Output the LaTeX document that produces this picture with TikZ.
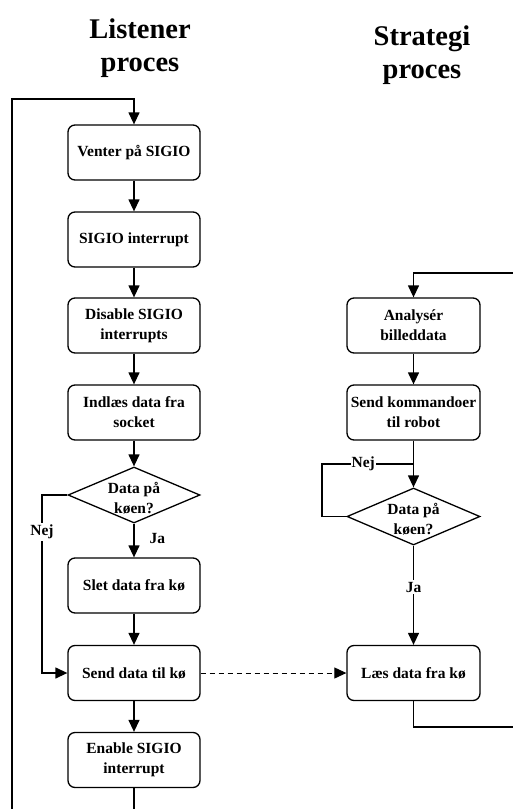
\documentclass[tikz,border=0pt]{standalone}
\usepackage{fontspec}
\setmainfont{Liberation Serif}
\usetikzlibrary{shapes.geometric,arrows.meta}
\begin{document}
\begin{tikzpicture}[x=1pt,y=-1pt,
  line width=1.3pt,
  box/.style={draw, rounded corners=7pt, minimum width=132pt, minimum height=55pt,
    inner sep=0pt, align=center, font=\fontsize{15.5}{20}\selectfont\bfseries},
  decision/.style={draw, diamond, minimum width=132pt, minimum height=56pt, inner sep=0pt},
  dtext/.style={align=center, inner sep=0pt, yshift=-3pt, font=\fontsize{15.5}{20}\selectfont\bfseries},
  title/.style={align=center, inner sep=0pt, font=\fontsize{28.5}{33}\selectfont\bfseries},
  lbl/.style={inner sep=1pt, font=\fontsize{15.5}{18}\selectfont\bfseries},
  arr/.style={-{Triangle[length=12pt,width=11pt]}},
  link/.style={line join=miter}]
\useasboundingbox (0,0) rectangle (512,809);

% column headings
\node[title] (tl) at (140,48.5) {Listener\\proces};
\node[title] (tr) at (422,55) {Strategi\\proces};

% listener process
\node[box] (wait) at (134,152.5) {Venter på SIGIO};
\node[box] (irq) at (134,239.5) {SIGIO interrupt};
\node[box] (dis) at (134,325.5) {Disable SIGIO\\interrupts};
\node[box] (read) at (134,412.5) {Indlæs data fra\\socket};
\node[decision, label={[dtext]center:Data på\\køen?}] (q1) at (134,495) {};
\node[box] (del) at (134,585.5) {Slet data fra kø};
\node[box] (send) at (134,673) {Send data til kø};
\node[box] (en) at (134,760) {Enable SIGIO\\interrupt};

% strategy process
\node[box, minimum width=133pt] (ana) at (413.5,325.5) {Analysér\\billeddata};
\node[box, minimum width=133pt] (cmd) at (413.5,412.5) {Send kommandoer\\til robot};
\node[decision, minimum width=133pt, minimum height=57pt, label={[dtext]center:Data på\\køen?}] (q2) at (413.5,516.5) {};
\node[box, minimum width=133pt] (get) at (413.5,673) {Læs data fra kø};

% listener flow
\draw[arr] (wait) -- (irq);
\draw[arr] (irq) -- (dis);
\draw[arr] (dis) -- (read);
\draw[arr] (read) -- (q1);
\draw[arr] (q1) -- node[lbl, right=14pt, pos=0.45] {Ja} (del);
\draw[arr] (del) -- (send);
\draw[arr] (send) -- (en);
\draw[arr, link] (q1.west) -- (42,495) -- (42,673) -- (send.west);
\node[lbl, fill=white, inner sep=2pt] (nej1) at (42,532) {Nej};
\draw[arr, link] (en.south) -- (134,840) -- (12,840) -- (12,99) -- (134,99) -- (wait.north);

% strategy flow
\draw[arr] (cmd) -- (q2);
\draw[link] (q2.west) -- (322,516.5) -- (322,464) -- node[lbl, fill=white, pos=0.45] {Nej} (413.5,464);
\draw[arr] (q2) -- node[lbl, fill=white, inner sep=2pt, pos=0.42] {Ja} (get);
\draw[arr] (ana) -- (cmd);
\draw[arr, link] (get.south) -- (413.5,727) -- (540,727) -- (540,273) -- (413.5,273) -- (ana.north);

% hand-over between the processes
\draw[arr, dashed, line width=1pt, dash pattern=on 5pt off 4pt] (send.east) -- (get.west);
\end{tikzpicture}
\end{document}
